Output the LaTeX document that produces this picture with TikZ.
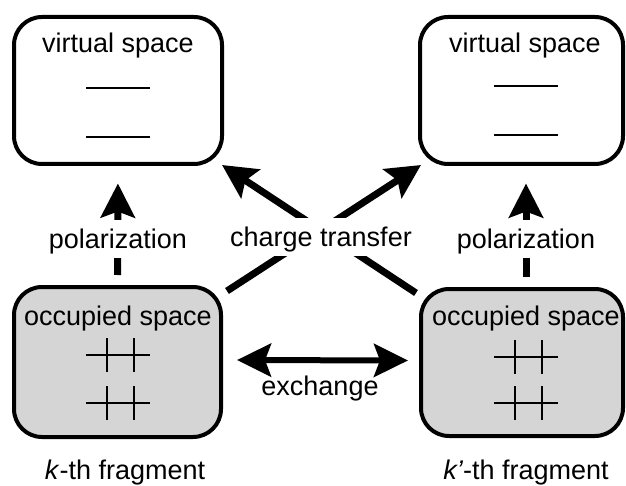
\documentclass[tikz,border=0pt]{standalone}
\usepackage{fontspec}
\setmainfont{Liberation Sans}
\usetikzlibrary{arrows.meta}
\begin{document}
\begin{tikzpicture}[x=1pt,y=-1pt,
  every node/.style={font=\fontsize{27pt}{32pt}\selectfont, inner sep=0pt},
  spacebox/.style={draw, line width=4pt, rounded corners=28pt, inner sep=0pt},
  occbox/.style={spacebox, fill=gray!33},
  arr/.style={line width=7pt, -{Stealth[length=34pt,width=34pt,inset=6pt]}},
  dblarr/.style={line width=6pt, {Stealth[length=34pt,width=33pt,inset=6pt]}-{Stealth[length=34pt,width=33pt,inset=6pt]}},
  cover/.style={fill=white, text height=25pt, text depth=5pt, inner xsep=2pt, inner ysep=4pt},
  level/.style={line width=2pt}
]
\useasboundingbox (0,0) rectangle (626,486);
% boxes
\node[spacebox, minimum width=208pt, minimum height=147pt] (vL) at (118,90.5) {};
\node[spacebox, minimum width=203pt, minimum height=147pt] (vR) at (521.5,90.5) {};
\node[occbox, minimum width=207pt, minimum height=150pt] (oL) at (117.5,362) {};
\node[occbox, minimum width=202pt, minimum height=147pt] (oR) at (522,362.5) {};
% box titles
\node[anchor=base] (tvL) at (118,53) {virtual space};
\node[anchor=base] (tvR) at (525,53) {virtual space};
\node[anchor=base] (toL) at (118,325) {occupied space};
\node[anchor=base] (toR) at (526,325) {occupied space};
% virtual levels
\draw[level] (86,88) -- (150,88);
\draw[level] (86,137) -- (150,137);
\draw[level] (494,86) -- (558,86);
\draw[level] (494,135) -- (558,135);
% occupied levels (doubly occupied)
\foreach \cx/\ya/\yb in {118/355/403, 526/357/403}{
  \foreach \yy in {\ya,\yb}{
    \draw[level] (\cx-32,\yy) -- (\cx+32,\yy);
    \draw[level] (\cx-11,\yy-17) -- (\cx-11,\yy+17);
    \draw[level] (\cx+16,\yy-17) -- (\cx+16,\yy+17);
  }
}
% polarization arrows
\draw[arr, shorten <=10pt, shorten >=17.5pt] (oL.north) -- (vL.south);
\draw[arr, shorten <=10pt, shorten >=17.5pt] ([xshift=4pt]oR.north) -- ([xshift=4.5pt]vR.south);
% charge transfer arrows
\draw[arr] ([shift={(-3pt,-6pt)}]oR.north west) -- ([shift={(-2pt,1pt)}]vL.south east);
\draw[arr] ([shift={(4pt,-6pt)}]oL.north east) -- ([shift={(3pt,1pt)}]vR.south west);
% exchange arrow
\draw[dblarr, shorten <=14pt, shorten >=11pt] ([yshift=2pt]oL.east) -- ([yshift=2pt]oR.west);
% labels
\node[cover, anchor=base] (pL) at (118,249) {polarization};
\node[cover, anchor=base] (pR) at (526,249) {polarization};
\node[cover, anchor=base] (ct) at (321,247) {charge transfer};
\node[anchor=base] (ex) at (320,395) {exchange};
\node[anchor=base] (fL) at (125,479) {\textit{k}-th fragment};
\node[anchor=base] (fR) at (526,479) {\textit{k’}-th fragment};
\end{tikzpicture}
\end{document}
